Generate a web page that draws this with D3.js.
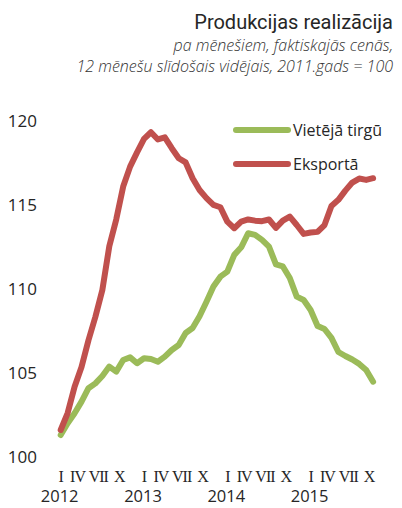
<!DOCTYPE html>
<html>
<head>
<meta charset="utf-8">
<script src="https://cdn.jsdelivr.net/npm/d3@7"></script>
<style>
  html, body { margin: 0; padding: 0; background: #fff; }
  svg { display: block; }
  text { font-family: "Open Sans", "Noto Sans", sans-serif; fill: #262626; }
</style>
</head>
<body>
<svg id="chart" width="402" height="508"></svg>
<script>
// ---- Data (monthly, Jan 2012 .. Oct 2015) ----
const startYear = 2012;
const monthsCount = 46;
const domestic = [
  101.25, 101.95, 102.55, 103.24, 104.04, 104.33, 104.77, 105.33, 105.03, 105.72, 105.88, 105.53,
  105.83, 105.78, 105.62, 105.92, 106.32, 106.62, 107.33, 107.63, 108.33, 109.2, 110.1, 110.69,
  110.99, 111.99, 112.44, 113.28, 113.18, 112.88, 112.48, 111.42, 111.3, 110.61, 109.5, 109.3,
  108.7, 107.75, 107.57, 107.04, 106.2, 105.96, 105.75, 105.49, 105.13, 104.43
];
const exportSeries = [
  101.55, 102.56, 104.13, 105.3, 106.9, 108.3, 109.9, 112.5, 114.1, 116.06, 117.25, 118.1,
  118.9, 119.3, 118.87, 119.0, 118.35, 117.75, 117.5, 116.56, 115.86, 115.37, 114.97, 114.83,
  113.97, 113.58, 113.97, 114.1, 114.03, 114.0, 114.1, 113.6, 114.03, 114.27, 113.77, 113.24,
  113.32, 113.36, 113.77, 114.9, 115.27, 115.82, 116.3, 116.54, 116.46, 116.56
];
const seriesNames = ["Vietējā tirgū", "Eksportā"];
const seriesColors = ["#9bbb59", "#c0504d"];
const yTicks = [100, 105, 110, 115, 120];
const monthTickIndex = [0, 3, 6, 9];
const monthTickLabels = ["I", "IV", "VII", "X"];
const years = [2012, 2013, 2014, 2015];
const titleText = "Produkcijas realizācija";
const subtitleLines = ["pa mēnešiem, faktiskajās cenās,", "12 mēnešu slīdošais vidējais, 2011.gads = 100"];

// ---- Layout ----
const svg = d3.select("#chart");
const x = d3.scaleLinear().domain([0, monthsCount - 1]).range([60.7, 373.1]);
const y = d3.scaleLinear().domain([100, 120]).range([456, 120.5]);

// Title
svg.append("text").attr("x", 393).attr("y", 29).attr("text-anchor", "end")
  .style("font-family", "Roboto, 'Open Sans', sans-serif").style("font-weight", 400)
  .style("font-size", "20px").text(titleText);
subtitleLines.forEach((t, i) => {
  svg.append("text").attr("x", 393).attr("y", 51 + i * 20.5).attr("text-anchor", "end")
    .style("font-size", "16px").style("font-style", "italic").style("font-weight", 300)
    .style("fill", "#333").text(t);
});

// Y axis labels
const yAxis = d3.axisLeft(y).tickValues(yTicks).tickSize(0).tickPadding(0);
const yg = svg.append("g").attr("transform", "translate(37,0)").call(yAxis);
yg.select(".domain").remove();
yg.selectAll("text").style("font-size", "17px").style("font-family", "'Open Sans', sans-serif")
  .attr("fill", "#404040").attr("dy", "0.36em");

// X axis labels: months (roman) and years
const monthIdx = [];
const monthLbl = [];
years.forEach((yr, k) => monthTickIndex.forEach((m, j) => {
  monthIdx.push(k * 12 + m); monthLbl.push(monthTickLabels[j]);
}));
const xg = svg.append("g");
xg.selectAll("text.m").data(monthIdx).join("text").attr("class", "m")
  .attr("x", d => x(d) + (d % 12 === 0 ? 0 : -4))
  .attr("y", 482).attr("text-anchor", "middle")
  .style("font-family", "'Liberation Serif', serif").style("font-size", "16px")
  .style("letter-spacing", "-1px").attr("fill", "#404040")
  .text((d, i) => monthLbl[i]);
xg.selectAll("text.yr").data(years).join("text").attr("class", "yr")
  .attr("x", d => x((d - startYear) * 12) - 1).attr("y", 502).attr("text-anchor", "middle")
  .style("font-size", "16.5px").attr("fill", "#404040")
  .text(d => d);

// Lines
const line = d3.line().x((d, i) => x(i)).y(d => y(d));
[domestic, exportSeries].forEach((s, k) => {
  svg.append("path").datum(s).attr("d", line).attr("fill", "none")
    .attr("stroke", seriesColors[k]).attr("stroke-width", 6)
    .attr("stroke-linejoin", "round").attr("stroke-linecap", "round");
});

// Legend
seriesNames.forEach((n, k) => {
  const ly = 130 + k * 34;
  svg.append("line").attr("x1", 236).attr("x2", 288).attr("y1", ly).attr("y2", ly)
    .attr("stroke", seriesColors[k]).attr("stroke-width", 6).attr("stroke-linecap", "round");
  svg.append("text").attr("x", 293).attr("y", ly + 6).style("font-size", "16px")
    .attr("fill", "#404040").text(n);
});
</script>
</body>
</html>
